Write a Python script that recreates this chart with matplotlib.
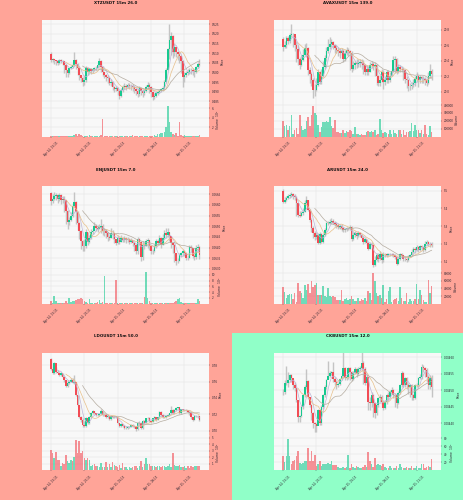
import matplotlib
matplotlib.use("Agg")
import matplotlib.pyplot as plt
import pandas as pd
from matplotlib.patches import Rectangle

tick_labels = ["Apr 14, 15:15", "Apr 14, 20:15", "Apr 15, 01:15", "Apr 15, 06:15", "Apr 15, 11:15"]

# XTZ
xtz_open = 0.5095
xtz_close = [.5065,.5068,.5062,.5058,.5050,.5062,.5060,.5058,.5040,.5010,
             .4995,.5020,.5030,.5040,.5065,.5045,.5020,.4985,.4970,.4950,
             .4960,.5025,.5000,.5015,.5005,.5015,.5020,.5025,.5040,.5060,
             .5030,.5000,.4985,.4975,.4970,.4945,.4950,.4925,.4915,.4920,
             .4905,.4880,.4910,.4925,.4930,.4925,.4935,.4930,.4930,.4925,
             .4915,.4905,.4890,.4920,.4905,.4895,.4905,.4925,.4935,.4925,
             .4900,.4875,.4880,.4895,.4900,.4905,.4915,.4920,.4950,.5010,
             .5120,.5170,.5190,.5105,.5130,.5105,.5095,.5085,.5060,.4975,
             .4985,.4995,.5000,.5010,.5010,.5005,.5000,.5030,.5045,.5040]
xtz_high = [.5105,.5075,.5070,.5065,.5062,.5068,.5068,.5065,.5060,.5042,
            .5015,.5025,.5040,.5050,.5105,.5070,.5050,.5020,.4985,.4975,
            .4985,.5035,.5030,.5025,.5020,.5025,.5030,.5035,.5050,.5075,
            .5065,.5035,.5000,.4990,.4985,.4975,.4965,.4955,.4930,.4930,
            .4925,.4910,.4920,.4935,.4945,.4940,.4945,.4945,.4940,.4940,
            .4930,.4920,.4920,.4930,.4925,.4915,.4915,.4935,.4950,.4945,
            .4930,.4905,.4895,.4905,.4910,.4915,.4920,.4930,.4960,.5020,
            .5125,.5250,.5210,.5195,.5150,.5120,.5110,.5100,.5090,.5065,
            .5000,.5005,.5015,.5020,.5020,.5020,.5015,.5035,.5055,.5070]
xtz_low = [.5055,.5055,.5045,.5040,.5040,.5045,.5050,.5040,.4995,.4975,
           .4975,.4990,.5015,.5025,.5035,.5015,.4985,.4960,.4950,.4930,
           .4935,.4950,.4985,.4995,.4990,.4995,.5005,.5010,.5020,.5030,
           .5000,.4980,.4970,.4955,.4945,.4935,.4930,.4910,.4900,.4905,
           .4885,.4860,.4875,.4900,.4915,.4910,.4920,.4915,.4910,.4905,
           .4895,.4885,.4870,.4880,.4885,.4875,.4885,.4900,.4915,.4895,
           .4870,.4855,.4860,.4875,.4885,.4895,.4900,.4905,.4915,.4945,
           .5010,.5070,.5090,.5075,.5085,.5080,.5065,.5050,.4995,.4925,
           .4950,.4975,.4985,.4990,.4990,.4985,.4975,.4995,.5025,.5035]
xtz_vol = [.05,.15,.05,.10,.08,.15,.10,.08,.12,.20,
           .15,.10,.10,.20,.30,.50,.20,.55,.45,.15,
           .15,.10,.15,.30,.10,.05,.10,.15,.20,.15,
           .30,3.70,.10,.10,.15,.05,.15,.15,.05,.10,
           .05,.05,.20,.10,.10,.05,.10,.10,.05,.40,
           .10,.10,.15,.10,.05,.10,.15,.15,.10,.15,
           .15,.05,.40,.10,.60,.50,.80,.70,1.00,2.00,
           6.40,3.00,1.00,.60,.30,.80,.20,3.10,.30,.25,
           .35,.10,.25,.10,.05,.10,.05,.10,.25,.30]

# AVAX
avax_open = 20.676
avax_close = [20.58,20.60,20.69,20.66,20.73,20.74,20.74,20.60,20.55,20.42,
              20.35,20.41,20.48,20.57,20.57,20.28,20.23,20.15,20.03,20.03,
              20.09,20.26,20.13,20.21,20.32,20.43,20.52,20.58,20.62,20.64,
              20.60,20.57,20.54,20.52,20.50,20.53,20.42,20.50,20.54,20.52,
              20.50,20.30,20.34,20.37,20.36,20.37,20.38,20.37,20.34,20.26,
              20.30,20.26,20.34,20.36,20.33,20.34,20.21,20.11,20.15,20.26,
              20.13,20.15,20.25,20.15,20.21,20.27,20.41,20.42,20.27,20.32,
              20.30,20.30,20.28,20.17,20.15,20.07,20.07,20.09,20.11,20.16,
              20.20,20.15,20.19,20.17,20.17,20.15,20.12,20.20,20.27,20.23]
avax_high = [20.70,20.65,20.72,20.72,20.76,20.87,20.76,20.72,20.65,20.60,
             20.45,20.48,20.55,20.62,20.63,20.58,20.32,20.25,20.18,20.10,
             20.18,20.30,20.27,20.30,20.40,20.48,20.58,20.68,20.70,20.68,
             20.66,20.62,20.60,20.58,20.56,20.56,20.55,20.54,20.58,20.56,
             20.54,20.52,20.40,20.40,20.42,20.42,20.42,20.42,20.41,20.36,
             20.35,20.33,20.38,20.40,20.38,20.38,20.36,20.22,20.22,20.30,
             20.28,20.20,20.28,20.28,20.25,20.30,20.46,20.46,20.43,20.36,
             20.35,20.33,20.32,20.30,20.21,20.17,20.12,20.13,20.16,20.20,
             20.25,20.22,20.22,20.21,20.21,20.19,20.18,20.25,20.36,20.30]
avax_low = [20.52,20.56,20.57,20.62,20.63,20.70,20.58,20.53,20.38,20.34,
            20.30,20.33,20.40,20.47,20.45,20.22,20.12,20.07,19.92,19.95,
            20.01,20.07,20.10,20.10,20.19,20.30,20.40,20.50,20.55,20.58,
            20.55,20.50,20.50,20.46,20.44,20.47,20.38,20.40,20.47,20.46,
            20.28,20.25,20.28,20.30,20.31,20.32,20.32,20.30,20.23,20.22,
            20.22,20.22,20.25,20.31,20.28,20.20,20.09,20.08,20.08,20.13,
            20.04,20.09,20.12,20.12,20.13,20.20,20.25,20.24,20.23,20.24,
            20.25,20.26,20.15,20.12,20.05,20.01,20.03,20.04,20.06,20.08,
            20.13,20.06,20.12,20.11,20.11,20.09,20.08,20.10,20.18,20.15]
avax_vol = [2.0,1.4,1.5,.9,1.3,2.7,.4,.9,1.1,.4,
            2.7,1.4,.8,1.0,2.0,2.5,1.3,2.7,3.9,3.0,
            2.7,1.5,.6,1.2,1.9,1.9,2.0,1.9,2.5,1.3,
            1.1,2.1,.6,.6,.5,.5,.8,.5,.7,.6,
            .8,.7,.3,1.2,.3,.3,.2,.3,.2,.2,
            .6,.7,.6,.7,.6,.9,.2,.4,2.2,.8,
            .5,.6,.5,.4,.8,.3,.9,.5,.4,.9,
            .8,.4,.9,.2,.6,.6,.7,1.7,.7,1.5,
            .9,.8,.5,.8,.3,1.5,.3,.2,1.3,.6]

# ENJ
enj_open = .06656
enj_close = [.06617,.06628,.06641,.06645,.06628,.06645,.06625,.06628,.06622,.06570,
             .06519,.06531,.06550,.06594,.06613,.06566,.06516,.06477,.06430,.06409,
             .06406,.06472,.06425,.06445,.06472,.06477,.06500,.06492,.06488,.06497,
             .06500,.06477,.06477,.06469,.06450,.06445,.06469,.06466,.06438,.06422,
             .06445,.06425,.06445,.06434,.06445,.06434,.06438,.06427,.06434,.06422,
             .06414,.06383,.06441,.06425,.06356,.06414,.06409,.06430,.06433,.06406,
             .06383,.06383,.06406,.06430,.06422,.06445,.06414,.06445,.06466,.06457,
             .06472,.06453,.06422,.06414,.06375,.06336,.06336,.06367,.06372,.06383,
             .06375,.06352,.06352,.06402,.06398,.06359,.06355,.06398,.06402,.06367]
enj_high = [.06660,.06650,.06662,.06655,.06650,.06655,.06650,.06640,.06640,.06625,
            .06575,.06545,.06565,.06610,.06660,.06620,.06570,.06520,.06480,.06435,
            .06440,.06485,.06475,.06460,.06485,.06490,.06520,.06510,.06505,.06510,
            .06535,.06510,.06490,.06485,.06475,.06460,.06490,.06480,.06465,.06440,
            .06460,.06450,.06460,.06450,.06455,.06450,.06450,.06445,.06445,.06435,
            .06425,.06415,.06450,.06445,.06430,.06430,.06425,.06440,.06445,.06435,
            .06410,.06395,.06415,.06440,.06440,.06460,.06450,.06465,.06480,.06490,
            .06490,.06475,.06455,.06425,.06415,.06375,.06350,.06375,.06380,.06395,
            .06390,.06380,.06365,.06410,.06410,.06400,.06370,.06410,.06415,.06405]
enj_low = [.06600,.06610,.06625,.06625,.06610,.06620,.06605,.06610,.06565,.06510,
           .06485,.06505,.06525,.06545,.06590,.06510,.06480,.06440,.06395,.06385,
           .06385,.06400,.06410,.06420,.06440,.06465,.06480,.06478,.06475,.06485,
           .06470,.06460,.06455,.06445,.06430,.06435,.06445,.06440,.06420,.06410,
           .06415,.06415,.06425,.06425,.06425,.06420,.06425,.06415,.06420,.06405,
           .06385,.06370,.06370,.06410,.06335,.06340,.06395,.06405,.06400,.06390,
           .06370,.06370,.06380,.06400,.06410,.06410,.06400,.06410,.06440,.06445,
           .06450,.06430,.06400,.06375,.06330,.06320,.06325,.06335,.06355,.06360,
           .06360,.06340,.06340,.06350,.06380,.06350,.06340,.06345,.06385,.06345]
enj_vol = [.8,.4,2.7,.8,.3,.2,.2,.2,.3,1.0,
           .4,1.8,.5,.9,1.0,1.2,1.5,1.5,1.8,1.5,
           .8,.5,.3,1.5,.4,.2,.3,.2,.6,1.2,
           .4,.5,9.6,.3,.4,.2,.2,.2,.3,8.1,
           .4,.2,.3,.2,.2,.4,.2,.2,.2,.4,
           .3,.2,.4,.2,.2,.3,2.2,10.8,2.0,1.0,
           .3,.2,.3,.2,.2,.3,.2,.2,.3,.2,
           .3,.4,.3,.4,.5,.9,1.5,1.8,.7,.4,
           .3,.2,.2,.4,.3,.3,.2,.3,1.6,1.0]

# AR
ar_open = 5.496
ar_close = [5.439,5.445,5.458,5.468,5.477,5.481,5.468,5.462,5.430,5.364,
            5.360,5.373,5.382,5.430,5.449,5.392,5.335,5.288,5.259,5.240,
            5.250,5.206,5.255,5.212,5.250,5.278,5.316,5.320,5.326,5.331,
            5.320,5.310,5.307,5.297,5.301,5.288,5.278,5.282,5.288,5.288,
            5.293,5.225,5.250,5.259,5.244,5.263,5.250,5.236,5.212,5.225,
            5.206,5.174,5.202,5.193,5.079,5.111,5.136,5.117,5.145,5.108,
            5.145,5.142,5.136,5.142,5.142,5.142,5.136,5.127,5.089,5.117,
            5.142,5.136,5.117,5.117,5.108,5.127,5.136,5.155,5.174,5.168,
            5.183,5.168,5.187,5.183,5.168,5.202,5.212,5.202,5.202,5.193]
ar_high = [5.510,5.462,5.472,5.480,5.490,5.492,5.490,5.480,5.468,5.430,
           5.385,5.385,5.400,5.445,5.470,5.450,5.395,5.345,5.300,5.275,
           5.270,5.260,5.270,5.260,5.262,5.290,5.325,5.332,5.342,5.345,
           5.340,5.328,5.325,5.318,5.315,5.310,5.298,5.292,5.298,5.298,
           5.305,5.300,5.268,5.272,5.268,5.272,5.268,5.258,5.245,5.235,
           5.230,5.212,5.212,5.210,5.200,5.130,5.150,5.150,5.160,5.150,
           5.155,5.150,5.150,5.148,5.150,5.150,5.148,5.142,5.130,5.128,
           5.150,5.150,5.140,5.130,5.122,5.135,5.142,5.170,5.185,5.182,
           5.192,5.190,5.195,5.195,5.190,5.215,5.222,5.218,5.212,5.208]
ar_low = [5.430,5.430,5.440,5.452,5.460,5.465,5.455,5.450,5.360,5.350,
          5.350,5.355,5.365,5.378,5.425,5.385,5.325,5.270,5.235,5.220,
          5.225,5.200,5.200,5.205,5.205,5.245,5.275,5.305,5.315,5.318,
          5.310,5.300,5.290,5.285,5.285,5.275,5.268,5.265,5.275,5.278,
          5.280,5.215,5.220,5.240,5.230,5.238,5.240,5.225,5.200,5.205,
          5.195,5.165,5.170,5.180,5.070,5.075,5.105,5.100,5.110,5.095,
          5.100,5.125,5.125,5.130,5.132,5.130,5.125,5.115,5.080,5.085,
          5.110,5.125,5.105,5.105,5.100,5.105,5.125,5.130,5.150,5.150,
          5.160,5.155,5.160,5.168,5.155,5.160,5.195,5.190,5.185,5.182]
ar_vol = [4.3,3.0,1.4,2.4,2.6,2.6,1.3,2.7,.5,5.3,
          3.3,2.9,1.6,5.0,3.7,5.1,2.7,6.0,4.4,5.0,
          5.3,2.4,2.4,2.2,4.6,2.0,1.7,4.0,2.0,1.7,
          1.9,1.8,.9,.9,1.0,3.7,.6,1.1,1.5,.9,
          1.3,2.0,1.1,.8,.8,1.5,.8,1.3,.9,1.4,
          .8,3.3,2.7,1.0,8.0,5.9,2.7,1.9,2.2,1.5,
          4.8,.5,1.2,3.3,4.4,.5,.9,1.2,1.5,.7,
          4.4,1.5,.8,.7,2.7,.5,1.3,.7,.6,1.1,
          5.2,1.1,3.7,2.3,1.0,.5,.4,6.2,2.9,4.6]

# LDO
ldo_open = .7873
ldo_close = [.7751,.7702,.7824,.7722,.7710,.7682,.7702,.7661,.7620,.7547,
             .7588,.7600,.7620,.7588,.7600,.7437,.7314,.7172,.7131,.7070,
             .7057,.7151,.7090,.7164,.7212,.7241,.7212,.7188,.7192,.7204,
             .7241,.7192,.7192,.7164,.7180,.7139,.7180,.7164,.7172,.7164,
             .7090,.7057,.7082,.7057,.7029,.7029,.7049,.7049,.7070,.7057,
             .7049,.7017,.7090,.7098,.7029,.7123,.7098,.7151,.7159,.7123,
             .7110,.7151,.7164,.7131,.7164,.7233,.7192,.7164,.7164,.7180,
             .7192,.7212,.7253,.7212,.7253,.7274,.7286,.7212,.7261,.7253,
             .7253,.7253,.7233,.7212,.7164,.7131,.7180,.7184,.7180,.7131]
ldo_high = [.7890,.7790,.7840,.7780,.7740,.7720,.7715,.7705,.7670,.7625,
            .7620,.7625,.7640,.7640,.7680,.7600,.7440,.7320,.7180,.7150,
            .7120,.7170,.7160,.7175,.7225,.7250,.7245,.7220,.7210,.7215,
            .7260,.7245,.7205,.7200,.7195,.7185,.7190,.7185,.7180,.7180,
            .7170,.7095,.7095,.7085,.7065,.7060,.7060,.7060,.7085,.7080,
            .7070,.7060,.7100,.7115,.7100,.7130,.7135,.7160,.7170,.7165,
            .7130,.7155,.7175,.7170,.7170,.7245,.7240,.7200,.7175,.7190,
            .7200,.7220,.7300,.7260,.7265,.7285,.7295,.7290,.7270,.7265,
            .7260,.7260,.7255,.7235,.7215,.7170,.7190,.7195,.7195,.7185]
ldo_low = [.7745,.7690,.7695,.7700,.7700,.7670,.7670,.7650,.7600,.7530,
           .7535,.7575,.7595,.7580,.7575,.7420,.7300,.7150,.7100,.7050,
           .7040,.7050,.7080,.7080,.7150,.7200,.7205,.7175,.7175,.7185,
           .7190,.7180,.7180,.7150,.7155,.7130,.7135,.7150,.7155,.7150,
           .7080,.7040,.7050,.7045,.7020,.7020,.7025,.7035,.7045,.7045,
           .7030,.7000,.7010,.7070,.7015,.7020,.7080,.7090,.7140,.7110,
           .7090,.7100,.7140,.7120,.7125,.7155,.7180,.7150,.7150,.7160,
           .7175,.7185,.7205,.7200,.7205,.7245,.7260,.7205,.7205,.7240,
           .7240,.7240,.7215,.7190,.7145,.7115,.7125,.7170,.7160,.7120]
ldo_vol = [3.1,2.7,1.8,2.8,1.5,1.5,.6,1.1,1.0,2.4,
           1.4,1.1,1.6,1.4,2.0,4.7,2.6,4.5,2.6,3.0,
           1.8,1.6,1.9,1.6,.6,.8,.9,.6,.6,.4,
           1.1,.5,.5,1.2,.5,.9,.5,1.2,.8,.7,
           .5,.8,.3,1.1,.5,.5,.2,.4,.3,.5,
           .7,.6,.3,.6,1.4,.5,.9,1.9,1.0,.9,
           .7,.7,.6,.5,.6,.7,.5,.6,.6,.5,
           .6,.9,.5,2.7,.8,.6,.7,.8,.5,.4,
           .6,.3,.7,.3,.6,.5,.6,.7,.7,.6]

# CKB
ckb_open = .004496
ckb_close = [.004494,.004521,.004521,.004531,.004546,.004536,.004516,.004506,.004471,.004418,
             .004422,.004451,.004486,.004511,.004529,.004481,.004456,.004430,.004400,.004397,
             .004392,.004440,.004400,.004451,.004486,.004511,.004531,.004543,.004552,.004557,
             .004533,.004526,.004516,.004519,.004533,.004543,.004567,.004536,.004541,.004567,
             .004557,.004534,.004552,.004564,.004548,.004564,.004567,.004584,.004564,.004523,
             .004541,.004466,.004461,.004486,.004461,.004430,.004456,.004476,.004481,.004466,
             .004448,.004466,.004486,.004481,.004496,.004501,.004486,.004486,.004463,.004491,
             .004516,.004552,.004516,.004536,.004516,.004511,.004516,.004486,.004476,.004516,
             .004516,.004536,.004541,.004570,.004567,.004562,.004541,.004516,.004536,.004511]
ckb_high = [.004505,.004530,.004575,.004555,.004550,.004548,.004535,.004525,.004510,.004470,
            .004425,.004455,.004490,.004515,.004565,.004530,.004480,.004460,.004435,.004405,
            .004400,.004445,.004445,.004455,.004490,.004515,.004535,.004590,.004560,.004560,
            .004585,.004540,.004530,.004525,.004537,.004548,.004615,.004570,.004545,.004570,
            .004570,.004560,.004558,.004570,.004568,.004570,.004575,.004620,.004590,.004570,
            .004545,.004540,.004480,.004495,.004490,.004465,.004460,.004480,.004490,.004485,
            .004470,.004470,.004490,.004495,.004502,.004510,.004505,.004492,.004490,.004497,
            .004520,.004560,.004555,.004540,.004540,.004522,.004520,.004520,.004490,.004520,
            .004522,.004540,.004548,.004580,.004578,.004572,.004568,.004545,.004545,.004545]
ckb_low = [.004485,.004490,.004515,.004510,.004525,.004525,.004505,.004498,.004465,.004405,
           .004405,.004420,.004445,.004480,.004505,.004475,.004450,.004410,.004385,.004375,
           .004375,.004395,.004395,.004395,.004445,.004480,.004505,.004535,.004540,.004545,
           .004525,.004515,.004505,.004510,.004515,.004530,.004540,.004530,.004530,.004535,
           .004530,.004528,.004530,.004550,.004540,.004545,.004560,.004560,.004520,.004515,
           .004515,.004440,.004440,.004450,.004420,.004415,.004425,.004450,.004465,.004455,
           .004440,.004445,.004460,.004470,.004478,.004490,.004478,.004450,.004448,.004460,
           .004488,.004510,.004510,.004510,.004505,.004490,.004480,.004470,.004470,.004475,
           .004510,.004510,.004535,.004535,.004555,.004540,.004525,.004505,.004505,.004480]
ckb_vol = [36,20,36,78,36,14,22,26,35,47,
           19,16,19,22,23,55,24,48,22,39,
           9,14,22,9,15,16,16,18,16,24,
           12,13,13,7,6,5,8,6,7,39,
           6,14,8,5,9,7,6,4,8,12,
           8,46,22,14,8,31,12,16,12,10,
           14,7,6,4,11,5,4,6,10,5,
           14,8,6,4,8,5,6,9,6,4,
           10,6,4,16,14,5,8,10,8,28]

FW, FH = 464, 500
SALMON = "#ffa498"
GREEN_BG = "#90ffc8"
UP = "#16c98f"
DOWN = "#f24c55"
TEXT = "#2b2430"


def draw_panel(left, top, sep, bottom, title, title_x, title_y, opn, close, high, low, vol,
               price_ticks, price_labels, price_lim, vol_ticks, vol_labels, vol_top, vol_label):
    width = 167.5
    ax = fig.add_axes([left / FW, 1 - sep / FH, width / FW, (sep - top) / FH])
    axv = fig.add_axes([left / FW, 1 - bottom / FH, width / FW, (bottom - sep) / FH], sharex=ax)
    opens = [opn] + close[:-1]
    x = list(range(len(close)))
    up = [c >= o for c, o in zip(close, opens)]
    cols = [UP if u else DOWN for u in up]

    ax.vlines(x, low, high, color="#c4c4c4", linewidth=1.0, zorder=2)
    ax.bar(x, [c - o for c, o in zip(close, opens)], bottom=opens, width=0.95, color=cols, linewidth=0, zorder=3)
    s = pd.Series(close)
    for win, col in [(5, "#bcb6d8"), (10, "#e8c08a"), (20, "#b5aca0")]:
        ax.plot(x, s.rolling(win).mean(), color=col, linewidth=0.5, zorder=4)
    axv.bar(x, vol, width=0.9, color=cols, alpha=0.6, linewidth=0, zorder=3)

    for a in (ax, axv):
        a.set_facecolor("#f8f8f8")
        a.grid(True, color="#e3e3e3", linewidth=0.35)
        a.set_axisbelow(True)
        a.yaxis.tick_right()
        a.yaxis.set_label_position("right")
        a.tick_params(length=1, width=0.25, pad=1, labelsize=2.0, colors=TEXT)
        for sp in a.spines.values():
            sp.set_visible(False)
    ax.spines["bottom"].set_visible(True)
    ax.spines["bottom"].set_color("#d8d8d8")
    ax.spines["bottom"].set_linewidth(0.4)

    ax.set_xlim(-5.6, 94.7)
    ax.set_xticks([0, 20, 40, 60, 80])
    ax.set_ylim(*price_lim)
    ax.set_yticks(price_ticks)
    ax.set_yticklabels(price_labels)
    ax.set_ylabel("Price", fontsize=2.2, color=TEXT)
    ax.yaxis.set_label_coords(1.02 + 0.01 * len(price_labels[0]), 0.5)
    ax.tick_params(axis="x", labelbottom=False, length=0)

    axv.set_ylim(0, vol_top)
    axv.set_yticks(vol_ticks)
    axv.set_yticklabels(vol_labels)
    axv.set_ylabel(vol_label, fontsize=2.2, color=TEXT)
    axv.yaxis.set_label_coords(1.025 + 0.01 * len(vol_labels[-1]), 0.5)
    axv.set_xticks([0, 20, 40, 60, 80])
    axv.set_xticklabels(tick_labels, rotation=45, ha="center", rotation_mode="default")
    axv.tick_params(axis="x", pad=2.5)
    fig.text(title_x / FW, 1 - title_y / FH, title, fontsize=2.9, fontweight="bold",
             ha="center", va="center", color="#111111")


fig = plt.figure(figsize=(FW / 100, FH / 100), dpi=100, facecolor=SALMON)
fig.patches.append(Rectangle((232 / FW, 0), 232 / FW, 167 / FH, transform=fig.transFigure,
                             facecolor=GREEN_BG, edgecolor="none", zorder=-1))

draw_panel(41.5, 20, 102.3, 136.7, "XTZUSDT 15m 26.0", 116, 3, xtz_open, xtz_close, xtz_high, xtz_low, xtz_vol,
           [.525, .52, .515, .51, .505, .5, .495, .49, .485],
           ["0.525", "0.520", "0.515", "0.510", "0.505", "0.500", "0.495", "0.490", "0.485"],
           (.4845, .5271), [2, 4, 6], ["2", "4", "6"], 7.2, r"Volume  $10^{5}$")
draw_panel(273.7, 20, 102.3, 136.7, "AVAXUSDT 15m 139.0", 348, 3, avax_open, avax_close, avax_high, avax_low, avax_vol,
           [20.8, 20.6, 20.4, 20.2, 20.0], ["20.8", "20.6", "20.4", "20.2", "20.0"],
           (19.867, 20.924), [1, 2, 3, 4], ["100000", "200000", "300000", "400000"], 4.35, "Volume")
draw_panel(41.5, 186.3, 269, 303.7, "ENJUSDT 15m 7.0", 116, 169.7, enj_open, enj_close, enj_high, enj_low, enj_vol,
           [.0665, .066, .0655, .065, .0645, .064, .0635, .063],
           ["0.0665", "0.0660", "0.0655", "0.0650", "0.0645", "0.0640", "0.0635", "0.0630"],
           (.06299, .066875), [2, 4, 6, 8, 10], ["2", "4", "6", "8", "10"], 12, r"Volume  $10^{6}$")
draw_panel(273.7, 186.3, 269.7, 303.7, "ARUSDT 15m 24.0", 348, 169.7, ar_open, ar_close, ar_high, ar_low, ar_vol,
           [5.5, 5.4, 5.3, 5.2, 5.1], ["5.5", "5.4", "5.3", "5.2", "5.1"],
           (5.0545, 5.525), [2, 4, 6, 8], ["20000", "40000", "60000", "80000"], 8.9, "Volume")
draw_panel(41.5, 353, 435.3, 470, "LDOUSDT 15m 50.0", 116, 336, ldo_open, ldo_close, ldo_high, ldo_low, ldo_vol,
           [.78, .76, .74, .72, .70], ["0.78", "0.76", "0.74", "0.72", "0.70"],
           (.6943, .7951), [1, 2, 3, 4, 5], ["1", "2", "3", "4", "5"], 5.4, r"Volume  $10^{5}$")
draw_panel(273.7, 353, 435.3, 470, "CKBUSDT 15m 12.0", 348, 336, ckb_open, ckb_close, ckb_high, ckb_low, ckb_vol,
           [.0046, .00455, .0045, .00445, .0044],
           ["0.00460", "0.00455", "0.00450", "0.00445", "0.00440"],
           (.004364, .004613), [20, 40, 60, 80], ["20", "40", "60", "80"], 88, r"Volume  $10^{6}$")

fig.savefig("out.png", dpi=100, facecolor=fig.get_facecolor())
